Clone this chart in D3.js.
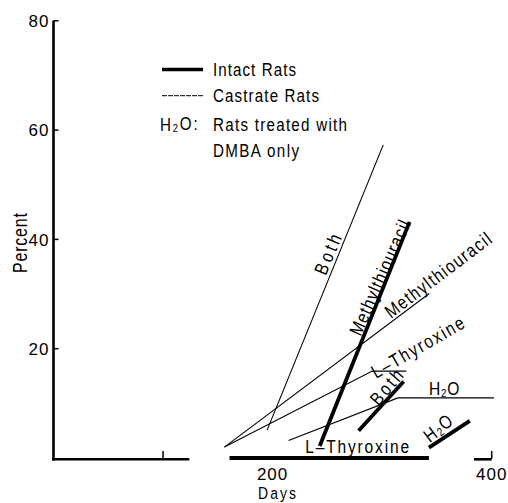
<!DOCTYPE html>
<html>
<head>
<meta charset="utf-8">
<script src="https://cdn.jsdelivr.net/npm/d3@7"></script>
<style>
  body { margin: 0; background: #fff; }
  svg { display: block; }
  text { font-family: "Liberation Sans", Arial, sans-serif; fill: #000; }
</style>
</head>
<body>
<div id="chart-area"></div>
<script>
/*
*    Tumor incidence (percent) vs days, intact and castrate rats
*/

// Data: [days, percent] points for each treatment line
const intactMethyl = [[243, 2.2], [325, 43.2]]
const intactBoth = [[278.5, 5.0], [319.6, 14.0]]
const intactH2O = [[342.7, 1.9], [380, 6.8]]
const intactThyroxine = [[160.7, 0], [342.7, 0]]

const castrateBoth = [[195, 5.1], [301, 57.3]]
const castrateMethyl = [[156, 2.0], [343, 30.1]]
const castrateThyroxine = [[156, 2.0], [291, 15.9], [322, 15.9]]
const castrateH2O = [[214.6, 3.2], [314.4, 11.0], [402, 11.0]]

const yTicks = [20, 40, 60, 80]
const xTickLabels = [200, 400]
const xTicksMarked = [100, 400]
const xAxisPieces = [[0, 124], [385, 400]]

const W = 508
const H = 503
const SQUEEZE = 0.82   // condensed look for the label type

const svg = d3.select("#chart-area").append("svg")
  .attr("width", W)
  .attr("height", H)

// Scales
const x = d3.scaleLinear()
  .domain([0, 400])
  .range([53.5, 491.7])
const y = d3.scaleLinear()
  .domain([0, 80])
  .range([458, 20.8])

const line = d3.line()
  .x(d => x(d[0]))
  .y(d => y(d[1]))

// condensed text helper: (px, py) anchor, angle, target width on screen
function narrowText(parent, str, px, py, opts) {
  const o = Object.assign({ size: 18.5, angle: 0, anchor: "start", len: null, dy: 0, ls: 0 }, opts)
  const t = parent.append("text")
    .attr("transform", `translate(${px}, ${py}) rotate(${o.angle}) scale(${SQUEEZE}, 1)`)
    .attr("text-anchor", o.anchor)
    .attr("dy", o.dy)
    .attr("font-size", o.size + "px")
    .attr("letter-spacing", o.ls + "px")
  if (str === "H2O") {
    t.append("tspan").text("H")
    t.append("tspan").attr("font-size", (o.size * 0.62) + "px").attr("dy", "0.12em").text("2")
    t.append("tspan").attr("dy", "-0.12em").text(o.colon ? "O:" : "O")
  } else {
    t.text(str)
  }
  if (o.len) t.attr("textLength", o.len / SQUEEZE).attr("lengthAdjust", "spacing")
  return t
}

// Y axis
svg.append("line")
  .attr("x1", x(0)).attr("x2", x(0))
  .attr("y1", y(80)).attr("y2", y(0) + 2.6)
  .attr("stroke", "#000")
  .attr("stroke-width", 2.6)

svg.selectAll(".ytick")
  .data(yTicks)
  .enter().append("line")
  .attr("class", "ytick")
  .attr("x1", x(0)).attr("x2", x(0) + 5)
  .attr("y1", d => y(d)).attr("y2", d => y(d))
  .attr("stroke", "#000")
  .attr("stroke-width", 1.5)

svg.selectAll(".ylab")
  .data(yTicks)
  .enter().append("text")
  .attr("class", "ylab")
  .attr("x", x(0) - 4)
  .attr("y", d => y(d))
  .attr("dy", "0.36em")
  .attr("text-anchor", "end")
  .attr("font-size", "17px")
  .attr("letter-spacing", "1px")
  .text(d => d)

// X axis (broken line in the original)
svg.selectAll(".xpiece")
  .data(xAxisPieces)
  .enter().append("line")
  .attr("class", "xpiece")
  .attr("x1", d => x(d[0]) - 1.3).attr("x2", d => x(d[1]))
  .attr("y1", y(0) + 1.3).attr("y2", y(0) + 1.3)
  .attr("stroke", "#000")
  .attr("stroke-width", 2.6)

svg.selectAll(".xtick")
  .data(xTicksMarked)
  .enter().append("line")
  .attr("class", "xtick")
  .attr("x1", d => x(d)).attr("x2", d => x(d))
  .attr("y1", y(0) + 1).attr("y2", y(0) - 7)
  .attr("stroke", "#000")
  .attr("stroke-width", 1.5)

svg.selectAll(".xlab")
  .data(xTickLabels)
  .enter().append("text")
  .attr("class", "xlab")
  .attr("x", d => x(d))
  .attr("y", 480)
  .attr("text-anchor", "middle")
  .attr("font-size", "17px")
  .attr("letter-spacing", "1px")
  .text(d => d)

// Axis titles
narrowText(svg, "Days", 277, 499, { size: 17, anchor: "middle", len: 38 })
narrowText(svg, "Percent", 27.3, 243, { size: 19.5, angle: -90, anchor: "middle", len: 60 })

// Lines
const series = [
  { pts: intactMethyl, w: 3.8 },
  { pts: intactBoth, w: 3.8 },
  { pts: intactH2O, w: 3.8 },
  { pts: intactThyroxine, w: 3.8 },
  { pts: castrateBoth, w: 1.1 },
  { pts: castrateMethyl, w: 1.1 },
  { pts: castrateThyroxine, w: 1.1 },
  { pts: castrateH2O, w: 1.1 }
]

svg.selectAll(".series")
  .data(series)
  .enter().append("path")
  .attr("class", "series")
  .attr("d", d => line(d.pts))
  .attr("fill", "none")
  .attr("stroke", "#000")
  .attr("stroke-width", d => d.w)

// In-plot labels: centre in [days, percent], angle, width on screen
const labels = [
  { t: "Both", at: [250.2, 37.3], a: -67, len: 42 },
  { t: "Methylthiouracil", at: [297.7, 33.0], a: -66, len: 124 },
  { t: "Methylthiouracil", at: [350.9, 33.5], a: -37, len: 128 },
  { t: "L\u2013Thyroxine", at: [332.4, 20.3], a: -30, len: 104 },
  { t: "Both", at: [303.8, 13.0], a: -50, len: 40 },
  { t: "H2O", at: [357, 12.7], a: 0, ls: 1 },
  { t: "H2O", at: [351.6, 5.5], a: -37, ls: 1.5 },
  { t: "L\u2013Thyroxine", at: [277.2, 2.2], a: 0, len: 104 }
]

labels.forEach(d => {
  narrowText(svg, d.t, x(d.at[0]), y(d.at[1]), { size: 19, angle: d.a, anchor: "middle", len: d.len, ls: d.ls || 0, dy: "0.36em" })
})

// Legend
const legend = svg.append("g")
legend.append("line")
  .attr("x1", 162).attr("x2", 203)
  .attr("y1", 69.5).attr("y2", 69.5)
  .attr("stroke", "#000").attr("stroke-width", 3.6)
legend.append("line")
  .attr("x1", 162).attr("x2", 203)
  .attr("y1", 95.7).attr("y2", 95.7)
  .attr("stroke", "#000").attr("stroke-width", 1)
  .attr("stroke-dasharray", "5,1")

const legendText = [
  { t: "Intact Rats", y: 75.7, len: 83 },
  { t: "Castrate Rats", y: 102, len: 106 },
  { t: "Rats treated with", y: 131, len: 134 },
  { t: "DMBA only", y: 157, len: 86 }
]
legendText.forEach(d => narrowText(legend, d.t, 213, d.y, { len: d.len }))
narrowText(legend, "H2O", 160, 131, { ls: 2.2, colon: true })
</script>
</body>
</html>
